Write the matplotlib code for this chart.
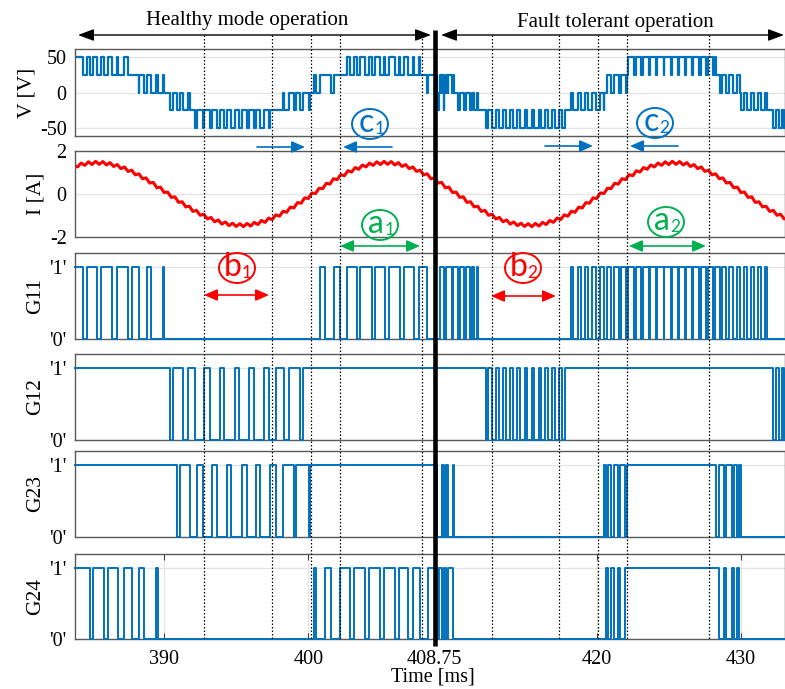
"""Healthy vs fault-tolerant operation of a 5-level cascaded H-bridge:
output voltage, load current and the four gate signals G11/G12/G23/G24.

Gate signals are kept as toggle-time lists read from the scope picture; the
phase voltage is rebuilt from them as 25 V * (G11 + G12 + G23 + G24 - 2).
"""

import numpy as np
import matplotlib

matplotlib.use("Agg")
import matplotlib.pyplot as plt  # noqa: E402
import matplotlib.transforms as mtransforms  # noqa: E402
from matplotlib.lines import Line2D  # noqa: E402
from matplotlib.patches import Ellipse, FancyArrowPatch  # noqa: E402

W_PX, H_PX = 785, 689
T_START, T_END = 383.82, 433.06
T_FAULT = 408.8
VCELL = 25.0

# ---------------------------------------------------------------- data (ms)
G11_START = 1
G11_TOGGLES = [
    384.40, 384.63, 385.33, 385.63, 386.41, 386.72, 387.52, 387.76, 388.26, 388.80,
    389.10, 389.95, 390.00,
    400.83, 401.13, 401.76, 402.22, 402.69, 403.38, 403.61, 404.42, 404.60, 405.35,
    405.63, 406.39, 406.62, 407.31, 407.71, 408.24,
    409.10, 409.40, 409.56, 409.97, 410.01, 410.38, 410.49, 410.78, 410.95, 411.18,
    411.32, 411.47, 411.71, 411.76,
    418.20, 418.37, 418.70, 418.91, 419.20, 419.43, 419.70, 419.96, 420.20, 420.48,
    420.70, 421.01, 421.20, 421.53, 421.70, 422.05, 422.20, 422.58, 422.70, 423.10,
    423.20, 423.62, 423.70, 424.13, 424.20, 424.64, 424.70, 425.14, 425.20, 425.64,
    425.70, 426.13, 426.20, 426.62, 426.70, 427.10, 427.20, 427.58, 427.70, 428.05,
    428.20, 428.52, 428.70, 428.99, 429.20, 429.46, 429.70, 429.93, 430.20, 430.41,
    430.70, 430.89, 431.20, 431.37, 431.70, 431.84,
]

G12_START = 1
G12_TOGGLES = [
    390.42, 390.60, 391.30, 391.69, 392.15, 392.78, 393.19, 393.89, 394.12, 394.93,
    395.16, 395.92, 396.20, 396.90, 397.24, 397.78, 398.28, 398.63, 399.44, 399.63,
    412.30, 412.48, 412.75, 413.00, 413.22, 413.50, 413.70, 414.00, 414.18, 414.50,
    414.66, 415.00, 415.15, 415.50, 415.64, 415.98, 416.14, 416.45, 416.63, 416.92,
    417.13, 417.38, 417.62, 417.80,
    432.26, 432.45, 432.62, 432.85, 432.98,
]

G23_START = 1
G23_TOGGLES = [
    390.88, 391.11, 391.81, 392.27, 392.69, 393.31, 393.70, 394.35, 394.63, 395.40,
    395.74, 396.39, 396.67, 397.31, 397.78, 398.24, 398.98, 399.17, 400.02, 400.14,
    408.92, 409.30, 409.40, 409.58, 409.66, 410.05, 410.12,
    420.50, 420.62, 420.80, 420.98, 421.20, 421.45, 421.65, 421.95, 422.10,
    428.30, 428.45, 428.85, 429.00, 429.35, 429.52, 429.75, 429.88, 430.00,
]

G24_START = 1
G24_TOGGLES = [
    384.86, 385.10, 385.85, 386.10, 386.83, 387.20, 387.76, 388.28, 388.61, 389.42,
    389.56,
    400.37, 400.56, 401.13, 401.59, 402.22, 402.92, 403.15, 403.96, 404.19, 405.00,
    405.23, 406.04, 406.28, 406.88, 407.29, 407.78, 408.31, 409.00, 409.08, 409.28,
    409.42, 409.58, 409.72, 410.03,
    420.62, 420.80, 420.98, 421.20, 421.45, 421.65, 421.95,
    428.45, 428.85, 429.00, 429.35, 429.52, 429.75, 429.88,
]

# load current, sampled every 0.25 ms from 383.75 ms (ripple tops/bottoms)
I_T0, I_DT = 383.75, 0.25
I_VALUES = [
    1.35, 1.26, 1.44, 1.33, 1.50, 1.37, 1.52, 1.38, 1.51, 1.35,
    1.46, 1.28, 1.37, 1.18, 1.26, 1.05, 1.11, 0.89, 0.94, 0.71,
    0.75, 0.51, 0.54, 0.29, 0.32, 0.07, 0.09, -0.16, -0.13, -0.39,
    -0.36, -0.60, -0.57, -0.81, -0.76, -0.99, -0.94, -1.16, -1.09, -1.29,
    -1.21, -1.40, -1.30, -1.47, -1.36, -1.51, -1.38, -1.52, -1.37, -1.49,
    -1.32, -1.42, -1.23, -1.32, -1.12, -1.19, -0.97, -1.03, -0.80, -0.85,
    -0.61, -0.65, -0.40, -0.43, -0.18, -0.21, 0.05, 0.02, 0.27, 0.25,
    0.50, 0.46, 0.71, 0.67, 0.90, 0.85, 1.08, 1.02, 1.23, 1.15,
    1.35, 1.26, 1.44, 1.33, 1.50, 1.37, 1.52, 1.38, 1.51, 1.35,
    1.46, 1.28, 1.37, 1.18, 1.26, 1.05, 1.11, 0.89, 0.94, 0.71,
    0.75, 0.51, 0.54, 0.29, 0.32, 0.07, 0.09, -0.16, -0.13, -0.39,
    -0.36, -0.60, -0.57, -0.81, -0.76, -0.99, -0.94, -1.16, -1.09, -1.29,
    -1.21, -1.40, -1.30, -1.47, -1.36, -1.51, -1.38, -1.52, -1.37, -1.49,
    -1.32, -1.42, -1.23, -1.32, -1.12, -1.19, -0.97, -1.03, -0.80, -0.85,
    -0.61, -0.65, -0.40, -0.43, -0.18, -0.21, 0.05, 0.02, 0.27, 0.25,
    0.50, 0.46, 0.71, 0.67, 0.90, 0.85, 1.08, 1.02, 1.23, 1.15,
    1.35, 1.26, 1.44, 1.33, 1.50, 1.37, 1.52, 1.38, 1.51, 1.35,
    1.46, 1.28, 1.37, 1.18, 1.26, 1.05, 1.11, 0.89, 0.94, 0.71,
    0.75, 0.51, 0.54, 0.29, 0.32, 0.07, 0.09, -0.16, -0.13, -0.39,
    -0.36, -0.60, -0.57, -0.81, -0.76, -0.99, -0.94, -1.16, -1.09,
]

# dotted time markers and x ticks
MARKERS = [392.78, 397.46, 400.17, 402.22, 407.90, 412.71, 417.38, 420.12, 422.13, 427.80]
XTICKS = [390, 400, 408.75, 420, 430]
XTICK_LABELS = ["390", "400", "408.75", "420", "430"]

BLUE = "#0072BD"
RED = "#FF0000"
ANN_BLUE = "#0070C0"
ANN_GREEN = "#00B050"
ANN_RED = "#FF0000"
FRAME = "#5a5a5a"
GRID = "#e4e4e4"


def fx(px: float) -> float:
    return px / W_PX


def fy(py: float) -> float:
    return 1.0 - py / H_PX


def gate_state(start: int, toggles: np.ndarray, t: np.ndarray) -> np.ndarray:
    n = np.searchsorted(toggles, t, side="right")
    return np.where(n % 2 == 0, start, 1 - start)


def arrow(fig, x0, y0, x1, y1, color, style, lw=1.2, scale=10):
    fig.add_artist(FancyArrowPatch(
        (fx(x0), fy(y0)), (fx(x1), fy(y1)), transform=fig.transFigure,
        arrowstyle=style, mutation_scale=scale, color=color, lw=lw,
        shrinkA=0, shrinkB=0))


def badge(fig, cx, cy, letter, sub, color):
    fig.add_artist(Ellipse((fx(cx), fy(cy)), 36 / W_PX, 30 / H_PX,
                           transform=fig.transFigure, fill=False, ec=color, lw=1.4))
    fig.text(fx(cx - 4), fy(cy + 8), letter, color=color, fontsize=23,
             family=["Lato", "DejaVu Sans"], ha="center", va="baseline")
    fig.text(fx(cx + 4.5), fy(cy + 10), sub, color=color, fontsize=12.5,
             family=["Lato", "DejaVu Sans"], ha="left", va="baseline")


def main() -> int:
    plt.rcParams["font.family"] = ["Liberation Serif", "DejaVu Serif"]
    fig = plt.figure(figsize=(W_PX / 100, H_PX / 100), dpi=100)

    gates = [
        ("G11", G11_START, np.asarray(G11_TOGGLES)),
        ("G12", G12_START, np.asarray(G12_TOGGLES)),
        ("G23", G23_START, np.asarray(G23_TOGGLES)),
        ("G24", G24_START, np.asarray(G24_TOGGLES)),
    ]
    # (label, top px, bottom px, label x px)
    panels = [("V [V]", 49, 136, 27), ("I [A]", 151, 237, 36),
              ("G11", 253, 339, 36), ("G12", 354, 440, 36),
              ("G23", 451, 537, 36), ("G24", 554, 639, 36)]

    axes = []
    for label, top, bot, lx in panels:
        ax = fig.add_axes([fx(75), fy(bot), fx(785) - fx(75), (bot - top) / H_PX])
        ax.set_xlim(T_START, T_END)
        for sp in ax.spines.values():
            sp.set_color(FRAME)
            sp.set_linewidth(1.0)
        ax.tick_params(axis="y", length=0, pad=6, labelsize=14.5)
        ax.tick_params(axis="x", bottom=False, labelbottom=False)
        ax.grid(axis="y", color=GRID, lw=0.9)
        ax.set_axisbelow(True)
        fig.text(fx(lx), fy((top + bot) / 2), label, rotation=90,
                 ha="center", va="center", fontsize=15.5)
        axes.append(ax)

    # voltage rebuilt from the gate states
    edges = np.unique(np.concatenate([[T_START, T_END]] + [g[2] for g in gates]))
    total = sum(gate_state(s, tg, edges) for _, s, tg in gates)
    v = VCELL * (total - 2)
    ax_v = axes[0]
    ax_v.plot(edges, v, drawstyle="steps-post", color=BLUE, lw=1.6)
    ax_v.set_ylim(-61.5, 61.5)
    ax_v.set_yticks([50, 0, -50])
    ax_v.set_yticklabels(["50", "0", "-50"])

    ax_i = axes[1]
    t_i = I_T0 + I_DT * np.arange(len(I_VALUES))
    ax_i.plot(t_i, I_VALUES, color=RED, lw=2.2)
    ax_i.set_ylim(-2, 2)
    ax_i.set_yticks([2, 0, -2])
    ax_i.set_yticklabels(["2", "0", "-2"])

    for ax, (_, s, tg) in zip(axes[2:], gates):
        x = np.concatenate([[T_START], tg, [T_END]])
        ax.plot(x, gate_state(s, tg, x), drawstyle="steps-post", color=BLUE,
                lw=1.4, clip_on=False, zorder=3)
        ax.set_ylim(0, 1.19)
        ax.set_yticks([1, 0])
        ax.set_yticklabels(["'1'", "'0'"])

    ax_b = axes[-1]
    ax_b.set_xticks(XTICKS)
    ax_b.set_xticklabels(XTICK_LABELS)
    ax_b.tick_params(axis="x", bottom=True, labelbottom=True, top=True,
                     direction="in", length=4, pad=8, labelsize=14.5, color="#444444")
    ax_b.grid(axis="x", color=GRID, lw=0.9)
    fig.text(fx(433), fy(677), "Time [ms]", ha="center", va="center", fontsize=14.5)

    # time markers across all panels
    trans = mtransforms.blended_transform_factory(ax_b.transData, fig.transFigure)
    for t in MARKERS:
        fig.add_artist(Line2D([t, t], [fy(35), fy(639)], transform=trans, color="black",
                              lw=0.9, linestyle=(0, (1.2, 1.6))))
    fig.add_artist(Line2D([T_FAULT, T_FAULT], [fy(30), fy(646)], transform=trans,
                          color="black", lw=3.3, solid_capstyle="butt"))

    # mode headers
    head = "<|-|>,head_length=0.8,head_width=0.3"
    arrow(fig, 78, 35, 431, 35, "black", head, lw=1.0, scale=12)
    arrow(fig, 441, 35, 784, 35, "black", head, lw=1.0, scale=12)
    fig.text(fx(247), fy(21), "Healthy mode operation", ha="center", va="center", fontsize=15)
    fig.text(fx(615), fy(22), "Fault tolerant operation", ha="center", va="center", fontsize=15)

    # annotations
    one = "-|>,head_length=0.8,head_width=0.35"
    two = "<|-|>,head_length=0.8,head_width=0.35"
    arrow(fig, 257, 147, 305, 147, ANN_BLUE, one)
    arrow(fig, 392, 147, 343, 147, ANN_BLUE, one)
    arrow(fig, 545, 146, 593, 146, ANN_BLUE, one)
    arrow(fig, 678, 146, 630, 146, ANN_BLUE, one)
    arrow(fig, 340, 246, 420, 246, ANN_GREEN, two)
    arrow(fig, 629, 246, 706, 246, ANN_GREEN, two)
    arrow(fig, 204, 295, 269, 295, ANN_RED, two)
    arrow(fig, 491, 296, 556, 296, ANN_RED, two)
    badge(fig, 370, 124, "c", "1", ANN_BLUE)
    badge(fig, 655, 123, "c", "2", ANN_BLUE)
    badge(fig, 380, 225, "a", "1", ANN_GREEN)
    badge(fig, 666, 222, "a", "2", ANN_GREEN)
    badge(fig, 237, 268, "b", "1", ANN_RED)
    badge(fig, 523, 268, "b", "2", ANN_RED)

    fig.savefig("out.png", dpi=100)
    plt.close(fig)
    return 0


if __name__ == "__main__":
    raise SystemExit(main())
